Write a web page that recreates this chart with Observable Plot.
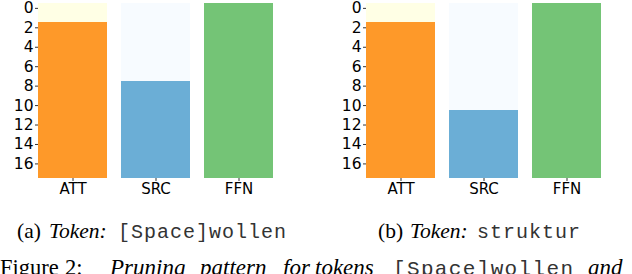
<!DOCTYPE html>
<html>
<head>
<meta charset="utf-8">
<script src="https://cdn.jsdelivr.net/npm/d3@7"></script>
<script src="https://cdn.jsdelivr.net/npm/@observablehq/plot@0.6"></script>
<style>
  html, body { margin: 0; padding: 0; background: #fff; }
  #wrap { position: relative; width: 632px; height: 274px; overflow: hidden; }
  .panel { position: absolute; top: 0; }
  #caps { position: absolute; left: 0; top: 0; }
  #caps text { font-family: "Liberation Serif", serif; fill: #000; }
  #caps .it { font-style: italic; }
  #caps .m { font-family: "Liberation Mono", monospace; fill: #333; }
</style>
</head>
<body>
<div id="wrap">
  <div id="pa" class="panel" style="left:0px"></div>
  <div id="pb" class="panel" style="left:328px"></div>
  <svg id="caps" width="632" height="274" viewBox="0 0 632 274">
    <text x="17" y="237.5" font-size="21.5">(a)</text>
    <text class="it" x="49" y="237.5" font-size="21.5">Token:</text>
    <text class="m" x="118" y="237.5" font-size="20" textLength="168">[Space]wollen</text>
    <text x="378" y="237.5" font-size="21.5">(b)</text>
    <text class="it" x="410" y="237.5" font-size="21.5">Token:</text>
    <text class="m" x="477" y="237.5" font-size="20" textLength="103">struktur</text>
    <text x="0" y="275" font-size="22.5">Figure</text>
    <text x="65" y="275" font-size="22.5">2:</text>
    <text class="it" x="110" y="275" font-size="23">Pruning</text>
    <text class="it" x="200" y="275" font-size="23">pattern</text>
    <text class="it" x="283" y="275" font-size="23">for</text>
    <text class="it" x="315" y="275" font-size="23">tokens</text>
    <text class="m" x="393" y="275" font-size="21" textLength="180">[Space]wollen</text>
    <text class="it" x="588" y="275" font-size="23">and</text>
  </svg>
</div>
<script>
// Components (x categories)
const components = ["ATT", "SRC", "FFN"];
// Number of layers (rows 0..17)
const layerCount = 18;
// Pruned layer counts (from the top) per component, for each token
const prunedWollen = [2, 8, 0];
const prunedStruktur = [2, 11, 0];
// Y tick labels
const yTicks = [0, 2, 4, 6, 8, 10, 12, 14, 16];
// Colours: pruned (light) and kept (dark)
const lightColors = ["#ffffe5", "#f7fbff", "#f7fcf5"];
const darkColors = ["#fe9929", "#6baed6", "#74c476"];

const layers = d3.range(layerCount);

function buildCells(pruned) {
  const rows = [];
  components.forEach((c, i) => {
    layers.forEach(l => {
      rows.push({comp: c, layer: l, fill: l < pruned[i] ? lightColors[i] : darkColors[i]});
    });
  });
  return rows;
}

function panel(pruned) {
  const cells = buildCells(pruned);
  return Plot.plot({
    width: 38 + 235 + 4,
    height: 198,
    marginLeft: 38,
    marginRight: 4,
    marginTop: 3,
    marginBottom: 20,
    style: {fontFamily: "'DejaVu Sans', sans-serif", color: "#000", background: "transparent", overflow: "visible"},
    x: {domain: components, paddingInner: 0.17, paddingOuter: 0},
    y: {domain: [-0.5, layerCount - 0.5], reverse: true},
    marks: [
      Plot.barY(cells, {
        x: "comp",
        y1: d => d.layer - 0.5,
        y2: d => d.layer + 0.5,
        fill: d => d.fill,
        shapeRendering: "crispEdges"
      }),
      Plot.axisY({ticks: yTicks, tickSize: 3, tickPadding: 2, fontSize: 15.5, label: null, tickFormat: d => String(d), stroke: "#333"}),
      Plot.axisX({tickSize: 3, tickPadding: 2, fontSize: 15, label: null, stroke: "#333"})
    ]
  });
}

document.getElementById("pa").appendChild(panel(prunedWollen));
document.getElementById("pb").appendChild(panel(prunedStruktur));
</script>
</body>
</html>
